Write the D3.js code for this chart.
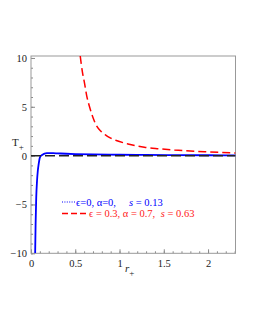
<!DOCTYPE html>
<html>
<head>
<meta charset="utf-8">
<script src="https://cdn.jsdelivr.net/npm/d3@7"></script>
<style>
  body { margin: 0; background: #fff; }
  svg { display: block; font-family: "Liberation Serif", "DejaVu Serif", serif; }
</style>
</head>
<body>
<div id="chart"></div>
<script>
// curve values
const blueR = [0.047, 0.052, 0.059, 0.068, 0.077, 0.087, 0.096, 0.105, 0.115, 0.13, 0.153, 0.18, 0.21, 0.25, 0.3, 0.4, 0.5, 0.7, 1.0, 1.3, 1.6, 2.0, 2.31];
const blueT = [-10, -7, -4.3, -2.6, -1.55, -0.85, -0.34, -0.1, 0, 0.1, 0.2, 0.25, 0.26, 0.25, 0.23, 0.19, 0.16, 0.12, 0.09, 0.07, 0.05, 0.04, 0.03];
const redR = [0.556, 0.58, 0.605, 0.63, 0.662, 0.7, 0.738, 0.79, 0.851, 0.9, 0.964, 1.095, 1.28, 1.45, 1.62, 1.96, 2.31];
const redT = [10.2, 8.6, 7.4, 6.1, 4.98, 3.9, 3.09, 2.5, 2.06, 1.8, 1.55, 1.2, 0.85, 0.7, 0.58, 0.4, 0.26];
const xTicks = [0, 0.5, 1, 1.5, 2];
const xTickLabels = ["0", "0.5", "1", "1.5", "2"];
const yTicks = [-10, -5, 0, 5, 10];
const yTickLabels = ["\u221210", "\u22125", "0", "5", "10"];

const width = 255;
const height = 330;
const box = { left: 31, right: 235.5, top: 56, bottom: 253.3 };

const svg = d3.select("#chart").append("svg")
  .attr("width", width)
  .attr("height", height);

const x = d3.scaleLinear().domain([0, 2.31]).range([box.left, box.right]);
const y = d3.scaleLinear().domain([-10, 10.2]).range([box.bottom, box.top]);

svg.append("defs").append("clipPath").attr("id", "clip")
  .append("rect")
  .attr("x", box.left).attr("y", box.top)
  .attr("width", box.right - box.left).attr("height", box.bottom - box.top);

// minor ticks
const minorX = d3.range(0, 2.31, 0.1);
const minorY = d3.range(-10, 10.01, 1);

const xAxisMinor = d3.axisBottom(x).tickValues(minorX).tickSizeInner(-2).tickSizeOuter(0).tickFormat("");
const yAxisMinor = d3.axisLeft(y).tickValues(minorY).tickSizeInner(-2).tickSizeOuter(0).tickFormat("");

const xAxis = d3.axisBottom(x).tickValues(xTicks).tickSizeInner(-4).tickSizeOuter(0).tickPadding(6)
  .tickFormat((d, i) => xTickLabels[i]);
const yAxis = d3.axisLeft(y).tickValues(yTicks).tickSizeInner(-4).tickSizeOuter(0).tickPadding(4)
  .tickFormat((d, i) => yTickLabels[i]);

function styleAxis(g) {
  g.attr("font-family", "Liberation Serif, serif");
  g.select(".domain").remove();
  g.selectAll("line").attr("stroke", "#888");
  g.selectAll("text").attr("fill", "#222").style("font-size", "10.5px");
}

svg.append("g").attr("transform", `translate(0,${box.bottom})`).call(xAxisMinor).call(styleAxis);
svg.append("g").attr("transform", `translate(${box.left},0)`).call(yAxisMinor).call(styleAxis);
svg.append("g").attr("transform", `translate(0,${box.bottom})`).call(xAxis).call(styleAxis);
svg.append("g").attr("transform", `translate(${box.left},0)`).call(yAxis).call(styleAxis);

// frame
svg.append("rect")
  .attr("x", box.left).attr("y", box.top)
  .attr("width", box.right - box.left).attr("height", box.bottom - box.top)
  .attr("fill", "none").attr("stroke", "#999").attr("stroke-width", 1);

const plot = svg.append("g").attr("clip-path", "url(#clip)");

const line = d3.line()
  .x((d) => x(d[0]))
  .y((d) => y(d[1]))
  .curve(d3.curveMonotoneX);

plot.append("path")
  .datum(blueR.map((r, i) => [r, blueT[i]]))
  .attr("d", line)
  .attr("fill", "none")
  .attr("stroke", "#0000ff")
  .attr("stroke-width", 1.8);

plot.append("path")
  .datum(redR.map((r, i) => [r, redT[i]]))
  .attr("d", line)
  .attr("fill", "none")
  .attr("stroke", "#ff0000")
  .attr("stroke-width", 1.5)
  .attr("stroke-dasharray", "8,4");

// zero line
plot.append("line")
  .attr("x1", x(0)).attr("x2", x(2.31))
  .attr("y1", y(0)).attr("y2", y(0))
  .attr("stroke", "#222")
  .attr("stroke-width", 1.5)
  .attr("stroke-dasharray", "10,4");

// axis titles
const yTitle = svg.append("text").attr("x", 12).attr("y", 146)
  .attr("fill", "#222").style("font-size", "11px");
yTitle.append("tspan").text("T");
yTitle.append("tspan").attr("dy", 4).style("font-size", "9px").text("+");

const xTitle = svg.append("text").attr("x", 125).attr("y", 272)
  .attr("fill", "#222").style("font-size", "11px");
xTitle.append("tspan").style("font-style", "italic").text("r");
xTitle.append("tspan").attr("dy", 4).style("font-size", "9px").text("+");

// legend
const legend = svg.append("g").style("font-size", "10.5px");

legend.append("line")
  .attr("x1", 62).attr("x2", 75).attr("y1", 202).attr("y2", 202)
  .attr("stroke", "#0000ff").attr("stroke-width", 1.2).attr("stroke-dasharray", "1,1.4");
const l1 = legend.append("text").attr("x", 76).attr("y", 205.5).attr("fill", "#0000ff");
l1.append("tspan").text("\u03f5=0, \u03b1=0,");
l1.append("tspan").attr("x", 129).style("font-style", "italic").text("s");
l1.append("tspan").text(" = 0.13");

legend.append("line")
  .attr("x1", 62).attr("x2", 88).attr("y1", 213.5).attr("y2", 213.5)
  .attr("stroke", "#ff0000").attr("stroke-width", 1.5).attr("stroke-dasharray", "6,3");
const l2 = legend.append("text").attr("x", 89).attr("y", 217).attr("fill", "#ff2020");
l2.append("tspan").text("\u03f5 = 0.3, \u03b1 = 0.7, ");
l2.append("tspan").attr("dx", 3).style("font-style", "italic").text("s");
l2.append("tspan").text(" = 0.63");
</script>
</body>
</html>
